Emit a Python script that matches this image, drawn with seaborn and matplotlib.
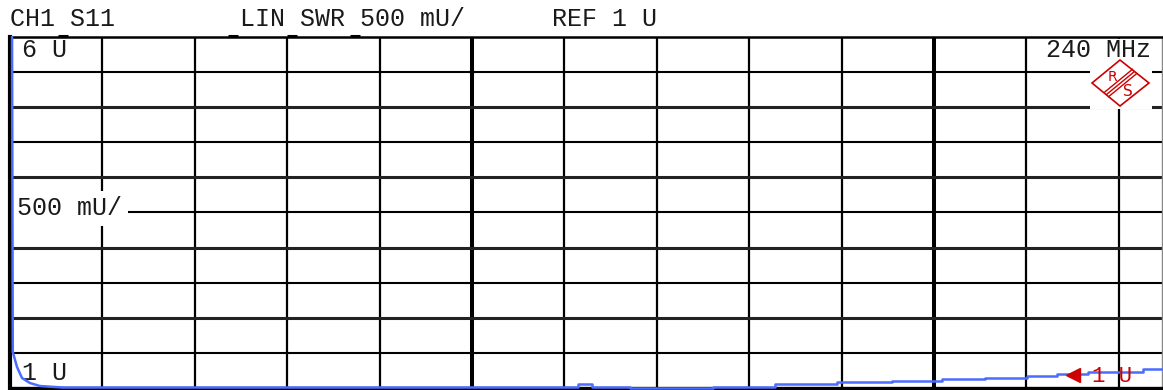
import numpy as np
import pandas as pd
import matplotlib
matplotlib.use("Agg")
import matplotlib.pyplot as plt
import seaborn as sns
from matplotlib.patches import Rectangle, Polygon
from matplotlib.lines import Line2D

W, H = 1163, 390

# ---------------- data (x in screen divisions, y in SWR units) ----------------
decay_div = [0.022, 0.030, 0.076, 0.130, 0.216, 0.325, 0.563]
decay_swr = [6.000, 1.513, 1.299, 1.142, 1.071, 1.028, 1.008]

step_div = [0.563, 5.011, 6.147, 6.299, 6.710, 7.608, 8.279, 8.950, 9.545,
            10.087, 10.552, 11.006, 11.331, 11.667, 12.262, 12.478]
step_swr = [1.008, 1.021, 1.053, 1.021, 1.006, 1.021, 1.050, 1.081, 1.100,
            1.124, 1.147, 1.175, 1.195, 1.224, 1.271, 1.271]

y_min, y_max, y_div = 1.0, 6.0, 0.5
x_max_div = 12.468
ref_level = 1.185
ref_marker_div = 11.50
top_mark_div = [0.574, 2.41, 3.05, 3.73]

header_texts = ["CH1 S11", "LIN SWR 500 mU/", "REF 1 U"]
top_label = "6 U"
mid_label = "500 mU/"
bottom_label = "1 U"
freq_label = "240 MHz"
ref_label = "1 U"

# ---------------- styling ----------------
sns.set_theme(style="white")
plt.rcParams["font.family"] = ["Liberation Mono", "DejaVu Sans Mono"]

TRACE = "#4a6cff"
RED = "#cc0000"
INK = "#1a1a1a"
FS = 18

fig = plt.figure(figsize=(W / 100, H / 100), dpi=100)
fig.patch.set_facecolor("white")
ax = fig.add_axes([10 / W, (H - 388) / H, (1162 - 10) / W, (388 - 37) / H])
ax.set_facecolor("white")


def fp(x, y):
    return (x / W, 1 - y / H)


# grid
for d in range(1, 13):
    ax.axvline(d, color="black", lw=2.9 if d % 5 == 0 else 1.6, zorder=1)
for v in np.arange(y_min + y_div, y_max, y_div):
    is_int = abs(v - round(v)) < 1e-6
    ax.axhline(v, color="#222222" if is_int else "black",
               lw=2.2 if is_int else 1.5, zorder=1)

n_before = len(ax.lines)
# trace
df_decay = pd.DataFrame({"div": decay_div, "swr": decay_swr})
df_step = pd.DataFrame({"div": step_div, "swr": step_swr})
sns.lineplot(data=df_decay, x="div", y="swr", ax=ax, color=TRACE, lw=1.8,
             sort=False, estimator=None)
sns.lineplot(data=df_step, x="div", y="swr", ax=ax, color=TRACE, lw=1.8,
             sort=False, estimator=None, drawstyle="steps-post")
for ln in ax.lines[n_before:]:
    ln.set_zorder(6)
    ln.set_clip_on(False)

ax.set_xlim(0, x_max_div)
ax.set_ylim(y_min, y_max)
ax.set_xticks([])
ax.set_yticks([])
ax.set_xlabel("")
ax.set_ylabel("")

for side, lw, col in [("left", 3.0, "black"), ("top", 1.8, "black"),
                      ("bottom", 2.4, "black"), ("right", 1.0, "#888888")]:
    ax.spines[side].set_visible(True)
    ax.spines[side].set_linewidth(lw)
    ax.spines[side].set_color(col)
    ax.spines[side].set_zorder(2.5)

# top small marks sitting on the upper border
ax.plot(top_mark_div, [y_max + 0.02] * len(top_mark_div), ls="none",
        marker="_", ms=7, mew=2.2, color="black", clip_on=False, zorder=7)

# header texts
ax.text(*fp(10, 26), header_texts[0], transform=fig.transFigure,
        fontsize=FS, color=INK, va="baseline", ha="left")
ax.text(*fp(240, 26), header_texts[1], transform=fig.transFigure,
        fontsize=FS, color=INK, va="baseline", ha="left")
ax.text(*fp(552, 26), header_texts[2], transform=fig.transFigure,
        fontsize=FS, color=INK, va="baseline", ha="left")

# labels inside the graticule
ax.text(*fp(22, 57), top_label, transform=fig.transFigure, fontsize=FS,
        color=INK, va="baseline", ha="left", zorder=4)
ax.text(*fp(17, 215), mid_label, transform=fig.transFigure, fontsize=FS,
        color=INK, va="baseline", ha="left", zorder=4,
        bbox=dict(boxstyle="square,pad=0.22", fc="white", ec="none"))
ax.text(*fp(22, 380), bottom_label, transform=fig.transFigure, fontsize=FS,
        color=INK, va="baseline", ha="left", zorder=4)

# frequency label with its white backing (leaves the 1027 px line intact)
ax.add_patch(Rectangle(fp(1036, 62), 124 / W, 23 / H, transform=fig.transFigure,
                       fc="white", ec="none", zorder=3, clip_on=False))
ax.text(*fp(1046, 57), freq_label, transform=fig.transFigure, fontsize=FS,
        color=INK, va="baseline", ha="left", zorder=4)

# logo background + diamond
ax.add_patch(Rectangle(fp(1090, 109), 62 / W, 69 / H, transform=fig.transFigure,
                       fc="white", ec="none", zorder=3, clip_on=False))
diamond = [fp(1092, 83), fp(1120, 60), fp(1149, 83), fp(1120, 106)]
ax.add_patch(Polygon(diamond, closed=True, transform=fig.transFigure,
                     fc="none", ec=RED, lw=1.2, zorder=4, clip_on=False))
for off in (-3.0, 0.0, 3.0):
    dx, dy = 0.628 * off, 0.778 * off
    x0, y0 = 1106.5 + dx, 94.5 + dy
    x1, y1 = 1134.5 + dx, 71.5 + dy
    a, b = fp(x0, y0), fp(x1, y1)
    ax.add_line(Line2D([a[0], b[0]], [a[1], b[1]], transform=fig.transFigure,
                       color=RED, lw=1.0, zorder=4, clip_on=False))
ax.text(*fp(1112, 77), "R", transform=fig.transFigure, fontsize=10,
        family="DejaVu Sans", color=RED, ha="center", va="center", zorder=5)
ax.text(*fp(1128, 91), "S", transform=fig.transFigure, fontsize=11,
        family="DejaVu Sans", color=RED, ha="center", va="center", zorder=5)

# reference marker
ax.plot([ref_marker_div], [ref_level], marker="<", ms=10, color=RED,
        ls="none", zorder=7, clip_on=False)
ax.text(*fp(1092, 382), ref_label, transform=fig.transFigure, fontsize=16,
        color=RED, va="baseline", ha="left", zorder=7)

fig.savefig("out.png", dpi=100, facecolor="white")
